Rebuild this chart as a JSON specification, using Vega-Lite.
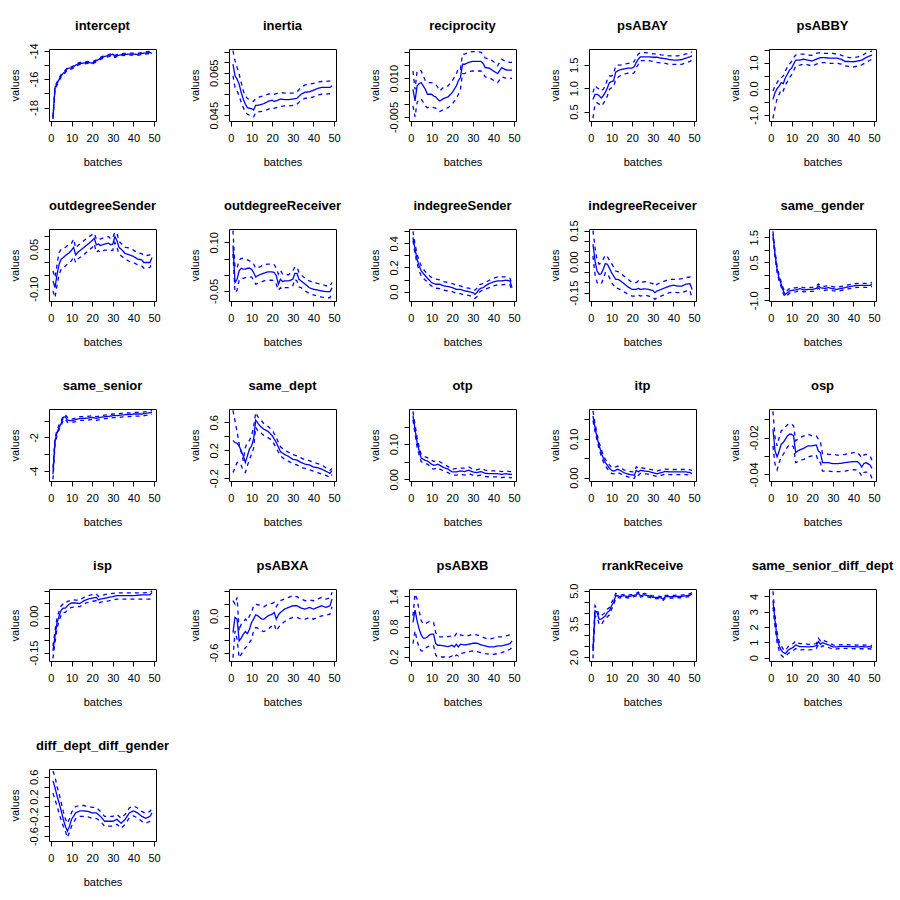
{
"$schema":"https://vega.github.io/schema/vega-lite/v6.json",
"columns":5,
"spacing":{"row":108,"column":73},
"bounds":"flush",
"padding":{"left":8,"top":19,"right":5,"bottom":5},
"resolve":{"scale":{"x":"independent","y":"independent"}},
"config":{
 "view":{"stroke":"black","strokeWidth":1},
 "font":"Liberation Sans",
 "line":{"color":"#0000ff","strokeWidth":1.3},
 "axis":{"domain":false,"grid":false,"tickColor":"black","tickSize":5,"labelColor":"black","labelFontSize":11,"titleFontSize":11,"titleFontWeight":"normal","titleColor":"black","labelFlush":false,"labelOverlap":false},
 "axisX":{"labelPadding":6,"titlePadding":13,"labelAngle":0},
 "axisY":{"labelAngle":-90,"labelAlign":"center","labelBaseline":"bottom","labelPadding":5,"titlePadding":8},
 "title":{"fontSize":13,"fontWeight":"bold","offset":16,"anchor":"middle","frame":"group","color":"black"}
},
"datasets":{
"intercept":[{"b":1,"e":-18.71,"l":-18.8,"h":-18.6},{"b":2,"e":-16.59,"l":-16.72,"h":-16.46},{"b":3,"e":-16.31,"l":-16.42,"h":-16.2},{"b":4,"e":-16.0,"l":-16.1,"h":-15.9},{"b":5,"e":-15.76,"l":-15.85,"h":-15.67},{"b":6,"e":-15.58,"l":-15.67,"h":-15.5},{"b":7,"e":-15.46,"l":-15.54,"h":-15.38},{"b":8,"e":-15.25,"l":-15.33,"h":-15.17},{"b":9,"e":-15.22,"l":-15.3,"h":-15.14},{"b":10,"e":-15.22,"l":-15.3,"h":-15.14},{"b":11,"e":-15.13,"l":-15.2,"h":-15.06},{"b":12,"e":-15.01,"l":-15.08,"h":-14.94},{"b":14,"e":-14.89,"l":-14.96,"h":-14.82},{"b":16,"e":-14.87,"l":-14.94,"h":-14.8},{"b":18,"e":-14.82,"l":-14.89,"h":-14.75},{"b":20,"e":-14.87,"l":-14.94,"h":-14.8},{"b":22,"e":-14.71,"l":-14.78,"h":-14.64},{"b":24,"e":-14.54,"l":-14.61,"h":-14.47},{"b":26,"e":-14.4,"l":-14.47,"h":-14.33},{"b":28,"e":-14.35,"l":-14.42,"h":-14.28},{"b":30,"e":-14.24,"l":-14.31,"h":-14.17},{"b":31,"e":-14.4,"l":-14.47,"h":-14.33},{"b":32,"e":-14.35,"l":-14.42,"h":-14.28},{"b":34,"e":-14.28,"l":-14.35,"h":-14.21},{"b":36,"e":-14.26,"l":-14.33,"h":-14.19},{"b":38,"e":-14.24,"l":-14.31,"h":-14.17},{"b":40,"e":-14.24,"l":-14.31,"h":-14.17},{"b":42,"e":-14.26,"l":-14.33,"h":-14.19},{"b":44,"e":-14.19,"l":-14.26,"h":-14.12},{"b":46,"e":-14.16,"l":-14.23,"h":-14.09},{"b":48,"e":-14.12,"l":-14.19,"h":-14.05},{"b":49,"e":-14.19,"l":-14.26,"h":-14.12}],
"inertia":[{"b":1,"e":0.0691,"l":0.0636,"h":0.0754},{"b":2,"e":0.0636,"l":0.0581,"h":0.0707},{"b":3,"e":0.062,"l":0.0565,"h":0.0675},{"b":4,"e":0.0597,"l":0.0541,"h":0.0644},{"b":5,"e":0.0557,"l":0.051,"h":0.0604},{"b":6,"e":0.0526,"l":0.0486,"h":0.0565},{"b":7,"e":0.0502,"l":0.0466,"h":0.0541},{"b":8,"e":0.0486,"l":0.0455,"h":0.0529},{"b":9,"e":0.0483,"l":0.045,"h":0.0524},{"b":10,"e":0.0481,"l":0.0447,"h":0.0521},{"b":11,"e":0.0475,"l":0.0442,"h":0.0515},{"b":12,"e":0.0497,"l":0.0463,"h":0.0529},{"b":13,"e":0.0497,"l":0.0465,"h":0.0532},{"b":14,"e":0.0499,"l":0.0467,"h":0.0537},{"b":16,"e":0.0505,"l":0.047,"h":0.0541},{"b":18,"e":0.0515,"l":0.0478,"h":0.0549},{"b":20,"e":0.0521,"l":0.0486,"h":0.0552},{"b":21,"e":0.0515,"l":0.0483,"h":0.0549},{"b":22,"e":0.0518,"l":0.0486,"h":0.0552},{"b":24,"e":0.0526,"l":0.0491,"h":0.0557},{"b":26,"e":0.0524,"l":0.0494,"h":0.0554},{"b":28,"e":0.0524,"l":0.0494,"h":0.0554},{"b":30,"e":0.0526,"l":0.0497,"h":0.0554},{"b":32,"e":0.053,"l":0.0502,"h":0.056},{"b":34,"e":0.0549,"l":0.0521,"h":0.0581},{"b":36,"e":0.0559,"l":0.053,"h":0.0593},{"b":38,"e":0.056,"l":0.053,"h":0.0596},{"b":40,"e":0.0568,"l":0.0537,"h":0.06},{"b":42,"e":0.0576,"l":0.0546,"h":0.0607},{"b":44,"e":0.0581,"l":0.0549,"h":0.0609},{"b":46,"e":0.0581,"l":0.0549,"h":0.0609},{"b":48,"e":0.0581,"l":0.0552,"h":0.0612},{"b":49,"e":0.0589,"l":0.0557,"h":0.0617}],
"reciprocity":[{"b":1,"e":0.0057,"l":-0.0007,"h":0.0128},{"b":2,"e":0.0012,"l":-0.005,"h":0.0057},{"b":3,"e":0.007,"l":0.0006,"h":0.0128},{"b":4,"e":0.0079,"l":0.0019,"h":0.0131},{"b":5,"e":0.0083,"l":0.0019,"h":0.0128},{"b":6,"e":0.007,"l":0.0006,"h":0.0109},{"b":7,"e":0.0057,"l":-0.0007,"h":0.009},{"b":8,"e":0.0038,"l":-0.0014,"h":0.0083},{"b":10,"e":0.0038,"l":-0.0011,"h":0.0083},{"b":11,"e":0.0031,"l":-0.0014,"h":0.008},{"b":12,"e":0.0028,"l":-0.0016,"h":0.0077},{"b":13,"e":0.0019,"l":-0.0024,"h":0.0065},{"b":14,"e":0.0012,"l":-0.0029,"h":0.0051},{"b":16,"e":0.0022,"l":-0.002,"h":0.0066},{"b":18,"e":0.0028,"l":-0.0014,"h":0.007},{"b":20,"e":0.0044,"l":-0.0001,"h":0.009},{"b":22,"e":0.007,"l":0.0022,"h":0.0116},{"b":23,"e":0.009,"l":0.0038,"h":0.0139},{"b":24,"e":0.0103,"l":0.0057,"h":0.0135},{"b":25,"e":0.0154,"l":0.0118,"h":0.0193},{"b":26,"e":0.0154,"l":0.0118,"h":0.0193},{"b":28,"e":0.0161,"l":0.0126,"h":0.02},{"b":30,"e":0.0165,"l":0.0128,"h":0.0203},{"b":32,"e":0.0165,"l":0.0128,"h":0.0203},{"b":34,"e":0.0165,"l":0.0128,"h":0.02},{"b":35,"e":0.0157,"l":0.012,"h":0.0193},{"b":36,"e":0.0141,"l":0.0105,"h":0.0178},{"b":38,"e":0.0139,"l":0.0102,"h":0.0174},{"b":40,"e":0.0128,"l":0.0092,"h":0.0165},{"b":42,"e":0.0118,"l":0.0083,"h":0.0148},{"b":44,"e":0.0141,"l":0.0105,"h":0.0174},{"b":46,"e":0.0132,"l":0.01,"h":0.0164},{"b":48,"e":0.0131,"l":0.01,"h":0.0161},{"b":49,"e":0.0131,"l":0.0099,"h":0.0161}],
"psABAY":[{"b":1,"e":0.76,"l":0.36,"h":0.91},{"b":2,"e":0.87,"l":0.66,"h":1.05},{"b":3,"e":0.87,"l":0.69,"h":1.01},{"b":4,"e":0.84,"l":0.66,"h":0.98},{"b":5,"e":0.79,"l":0.62,"h":0.94},{"b":6,"e":0.84,"l":0.67,"h":0.98},{"b":7,"e":0.91,"l":0.74,"h":1.05},{"b":8,"e":1.01,"l":0.84,"h":1.19},{"b":9,"e":1.12,"l":0.98,"h":1.26},{"b":10,"e":1.14,"l":1.01,"h":1.26},{"b":11,"e":1.16,"l":1.03,"h":1.3},{"b":12,"e":1.34,"l":1.19,"h":1.48},{"b":13,"e":1.37,"l":1.23,"h":1.49},{"b":14,"e":1.39,"l":1.26,"h":1.49},{"b":16,"e":1.41,"l":1.3,"h":1.51},{"b":18,"e":1.43,"l":1.32,"h":1.53},{"b":20,"e":1.43,"l":1.31,"h":1.53},{"b":21,"e":1.46,"l":1.33,"h":1.57},{"b":22,"e":1.55,"l":1.44,"h":1.66},{"b":23,"e":1.62,"l":1.51,"h":1.73},{"b":24,"e":1.67,"l":1.59,"h":1.76},{"b":26,"e":1.67,"l":1.59,"h":1.76},{"b":28,"e":1.67,"l":1.59,"h":1.75},{"b":30,"e":1.66,"l":1.57,"h":1.73},{"b":32,"e":1.66,"l":1.55,"h":1.73},{"b":34,"e":1.64,"l":1.54,"h":1.71},{"b":36,"e":1.63,"l":1.53,"h":1.7},{"b":38,"e":1.61,"l":1.51,"h":1.69},{"b":40,"e":1.6,"l":1.51,"h":1.69},{"b":42,"e":1.6,"l":1.51,"h":1.69},{"b":44,"e":1.61,"l":1.51,"h":1.7},{"b":46,"e":1.64,"l":1.54,"h":1.73},{"b":48,"e":1.67,"l":1.57,"h":1.74},{"b":49,"e":1.69,"l":1.61,"h":1.78}],
"psABBY":[{"b":1,"e":-0.41,"l":-1.14,"h":-0.09},{"b":2,"e":-0.15,"l":-0.73,"h":0.1},{"b":3,"e":0.0,"l":-0.37,"h":0.23},{"b":4,"e":0.1,"l":-0.22,"h":0.36},{"b":5,"e":0.23,"l":-0.03,"h":0.42},{"b":6,"e":0.19,"l":-0.09,"h":0.49},{"b":7,"e":0.42,"l":0.14,"h":0.68},{"b":8,"e":0.55,"l":0.27,"h":0.83},{"b":9,"e":0.71,"l":0.42,"h":0.94},{"b":10,"e":0.78,"l":0.53,"h":1.04},{"b":11,"e":0.94,"l":0.68,"h":1.19},{"b":12,"e":1.09,"l":0.87,"h":1.29},{"b":14,"e":1.09,"l":0.9,"h":1.32},{"b":16,"e":1.13,"l":0.94,"h":1.32},{"b":18,"e":1.09,"l":0.91,"h":1.29},{"b":20,"e":1.06,"l":0.87,"h":1.28},{"b":22,"e":1.13,"l":0.94,"h":1.35},{"b":24,"e":1.19,"l":1.0,"h":1.38},{"b":26,"e":1.19,"l":1.0,"h":1.35},{"b":28,"e":1.17,"l":0.97,"h":1.35},{"b":30,"e":1.17,"l":0.97,"h":1.35},{"b":32,"e":1.17,"l":0.97,"h":1.32},{"b":34,"e":1.13,"l":0.94,"h":1.29},{"b":36,"e":1.04,"l":0.87,"h":1.22},{"b":38,"e":1.04,"l":0.85,"h":1.19},{"b":40,"e":1.03,"l":0.83,"h":1.19},{"b":42,"e":1.06,"l":0.87,"h":1.22},{"b":44,"e":1.09,"l":0.91,"h":1.26},{"b":46,"e":1.19,"l":1.0,"h":1.36},{"b":48,"e":1.26,"l":1.09,"h":1.41},{"b":49,"e":1.29,"l":1.13,"h":1.45}],
"outdegreeSender":[{"b":1,"e":-0.071,"l":-0.109,"h":-0.033},{"b":2,"e":-0.096,"l":-0.134,"h":-0.058},{"b":3,"e":-0.045,"l":-0.086,"h":-0.007},{"b":4,"e":-0.007,"l":-0.045,"h":0.037},{"b":5,"e":0.012,"l":-0.026,"h":0.05},{"b":6,"e":0.018,"l":-0.02,"h":0.054},{"b":7,"e":0.025,"l":-0.014,"h":0.056},{"b":8,"e":0.031,"l":-0.007,"h":0.063},{"b":9,"e":0.037,"l":-0.001,"h":0.066},{"b":10,"e":0.046,"l":0.006,"h":0.072},{"b":11,"e":0.056,"l":0.021,"h":0.088},{"b":12,"e":0.028,"l":-0.001,"h":0.054},{"b":13,"e":0.037,"l":0.012,"h":0.063},{"b":14,"e":0.044,"l":0.018,"h":0.069},{"b":16,"e":0.056,"l":0.028,"h":0.082},{"b":18,"e":0.069,"l":0.044,"h":0.094},{"b":20,"e":0.082,"l":0.056,"h":0.105},{"b":21,"e":0.091,"l":0.069,"h":0.11},{"b":22,"e":0.066,"l":0.037,"h":0.088},{"b":23,"e":0.069,"l":0.044,"h":0.092},{"b":24,"e":0.063,"l":0.037,"h":0.088},{"b":26,"e":0.069,"l":0.046,"h":0.094},{"b":28,"e":0.072,"l":0.046,"h":0.097},{"b":29,"e":0.066,"l":0.044,"h":0.088},{"b":30,"e":0.069,"l":0.046,"h":0.094},{"b":31,"e":0.097,"l":0.075,"h":0.114},{"b":32,"e":0.082,"l":0.056,"h":0.11},{"b":33,"e":0.056,"l":0.031,"h":0.079},{"b":34,"e":0.05,"l":0.025,"h":0.072},{"b":36,"e":0.033,"l":0.012,"h":0.056},{"b":38,"e":0.028,"l":0.003,"h":0.054},{"b":40,"e":0.022,"l":-0.001,"h":0.046},{"b":42,"e":0.012,"l":-0.01,"h":0.035},{"b":44,"e":0.009,"l":-0.014,"h":0.033},{"b":45,"e":-0.001,"l":-0.022,"h":0.025},{"b":46,"e":-0.001,"l":-0.022,"h":0.025},{"b":48,"e":-0.001,"l":-0.02,"h":0.028},{"b":49,"e":0.018,"l":-0.001,"h":0.037}],
"outdegreeReceiver":[{"b":1,"e":0.09,"l":0.064,"h":0.136},{"b":2,"e":-0.024,"l":-0.055,"h":0.022},{"b":3,"e":-0.014,"l":-0.048,"h":0.02},{"b":4,"e":0.012,"l":-0.017,"h":0.045},{"b":5,"e":0.02,"l":-0.011,"h":0.05},{"b":6,"e":0.017,"l":-0.011,"h":0.05},{"b":7,"e":0.017,"l":-0.009,"h":0.048},{"b":8,"e":0.02,"l":-0.007,"h":0.046},{"b":9,"e":0.02,"l":-0.007,"h":0.043},{"b":10,"e":0.017,"l":-0.007,"h":0.041},{"b":11,"e":0.007,"l":-0.017,"h":0.033},{"b":12,"e":-0.007,"l":-0.029,"h":0.02},{"b":13,"e":-0.003,"l":-0.027,"h":0.022},{"b":14,"e":0.0,"l":-0.024,"h":0.024},{"b":16,"e":0.005,"l":-0.019,"h":0.031},{"b":18,"e":0.009,"l":-0.017,"h":0.033},{"b":20,"e":0.009,"l":-0.017,"h":0.033},{"b":21,"e":0.007,"l":-0.019,"h":0.031},{"b":22,"e":-0.003,"l":-0.029,"h":0.02},{"b":23,"e":-0.029,"l":-0.048,"h":0.002},{"b":24,"e":-0.014,"l":-0.04,"h":0.014},{"b":25,"e":-0.021,"l":-0.045,"h":0.002},{"b":26,"e":-0.019,"l":-0.04,"h":0.0},{"b":28,"e":-0.019,"l":-0.04,"h":0.0},{"b":30,"e":-0.014,"l":-0.034,"h":0.012},{"b":31,"e":0.004,"l":-0.014,"h":0.024},{"b":32,"e":0.004,"l":-0.019,"h":0.024},{"b":33,"e":-0.014,"l":-0.038,"h":0.007},{"b":34,"e":-0.019,"l":-0.04,"h":0.0},{"b":36,"e":-0.029,"l":-0.05,"h":-0.012},{"b":38,"e":-0.04,"l":-0.058,"h":-0.019},{"b":40,"e":-0.045,"l":-0.062,"h":-0.024},{"b":42,"e":-0.047,"l":-0.066,"h":-0.027},{"b":44,"e":-0.05,"l":-0.069,"h":-0.029},{"b":46,"e":-0.052,"l":-0.071,"h":-0.034},{"b":48,"e":-0.052,"l":-0.071,"h":-0.034},{"b":49,"e":-0.04,"l":-0.055,"h":-0.024}],
"indegreeSender":[{"b":1,"e":0.45,"l":0.422,"h":0.5},{"b":2,"e":0.353,"l":0.311,"h":0.394},{"b":3,"e":0.269,"l":0.233,"h":0.311},{"b":4,"e":0.214,"l":0.172,"h":0.256},{"b":5,"e":0.172,"l":0.131,"h":0.214},{"b":6,"e":0.15,"l":0.111,"h":0.186},{"b":7,"e":0.131,"l":0.094,"h":0.164},{"b":8,"e":0.111,"l":0.083,"h":0.15},{"b":9,"e":0.094,"l":0.061,"h":0.131},{"b":10,"e":0.075,"l":0.047,"h":0.117},{"b":11,"e":0.067,"l":0.033,"h":0.108},{"b":12,"e":0.061,"l":0.028,"h":0.103},{"b":14,"e":0.061,"l":0.025,"h":0.097},{"b":16,"e":0.047,"l":0.011,"h":0.083},{"b":18,"e":0.042,"l":0.006,"h":0.075},{"b":20,"e":0.033,"l":0.0,"h":0.067},{"b":22,"e":0.019,"l":-0.014,"h":0.053},{"b":24,"e":0.019,"l":-0.017,"h":0.047},{"b":26,"e":0.006,"l":-0.028,"h":0.033},{"b":28,"e":0.0,"l":-0.031,"h":0.028},{"b":30,"e":-0.008,"l":-0.042,"h":0.019},{"b":31,"e":-0.022,"l":-0.056,"h":0.011},{"b":32,"e":-0.008,"l":-0.044,"h":0.028},{"b":33,"e":0.019,"l":-0.008,"h":0.056},{"b":34,"e":0.028,"l":0.006,"h":0.061},{"b":35,"e":0.033,"l":0.011,"h":0.067},{"b":36,"e":0.047,"l":0.019,"h":0.075},{"b":38,"e":0.067,"l":0.033,"h":0.094},{"b":40,"e":0.081,"l":0.047,"h":0.111},{"b":42,"e":0.089,"l":0.056,"h":0.122},{"b":44,"e":0.089,"l":0.056,"h":0.122},{"b":46,"e":0.094,"l":0.061,"h":0.122},{"b":48,"e":0.089,"l":0.056,"h":0.111},{"b":49,"e":0.033,"l":0.006,"h":0.061}],
"indegreeReceiver":[{"b":1,"e":0.085,"l":0.028,"h":0.15},{"b":2,"e":0.004,"l":-0.061,"h":0.069},{"b":3,"e":-0.045,"l":-0.101,"h":0.007},{"b":4,"e":-0.061,"l":-0.109,"h":-0.012},{"b":5,"e":-0.058,"l":-0.106,"h":-0.004},{"b":6,"e":-0.036,"l":-0.085,"h":0.012},{"b":7,"e":-0.009,"l":-0.053,"h":0.032},{"b":8,"e":-0.012,"l":-0.058,"h":0.024},{"b":9,"e":-0.032,"l":-0.077,"h":0.007},{"b":10,"e":-0.053,"l":-0.101,"h":-0.009},{"b":11,"e":-0.069,"l":-0.114,"h":-0.025},{"b":12,"e":-0.085,"l":-0.129,"h":-0.045},{"b":13,"e":-0.085,"l":-0.129,"h":-0.048},{"b":14,"e":-0.09,"l":-0.134,"h":-0.053},{"b":16,"e":-0.106,"l":-0.145,"h":-0.069},{"b":18,"e":-0.122,"l":-0.158,"h":-0.085},{"b":20,"e":-0.134,"l":-0.166,"h":-0.101},{"b":22,"e":-0.134,"l":-0.166,"h":-0.101},{"b":23,"e":-0.129,"l":-0.161,"h":-0.093},{"b":24,"e":-0.134,"l":-0.166,"h":-0.101},{"b":26,"e":-0.131,"l":-0.161,"h":-0.096},{"b":28,"e":-0.134,"l":-0.166,"h":-0.101},{"b":30,"e":-0.139,"l":-0.171,"h":-0.106},{"b":31,"e":-0.15,"l":-0.182,"h":-0.118},{"b":32,"e":-0.142,"l":-0.174,"h":-0.109},{"b":34,"e":-0.134,"l":-0.166,"h":-0.101},{"b":36,"e":-0.126,"l":-0.158,"h":-0.093},{"b":38,"e":-0.118,"l":-0.15,"h":-0.085},{"b":40,"e":-0.114,"l":-0.147,"h":-0.085},{"b":42,"e":-0.118,"l":-0.15,"h":-0.085},{"b":44,"e":-0.118,"l":-0.15,"h":-0.082},{"b":46,"e":-0.109,"l":-0.142,"h":-0.077},{"b":48,"e":-0.106,"l":-0.139,"h":-0.074},{"b":49,"e":-0.134,"l":-0.178,"h":-0.093}],
"same_gender":[{"b":1,"e":1.63,"l":1.5,"h":1.74},{"b":2,"e":0.83,"l":0.71,"h":0.95},{"b":3,"e":0.23,"l":0.11,"h":0.35},{"b":4,"e":-0.13,"l":-0.24,"h":-0.02},{"b":5,"e":-0.37,"l":-0.48,"h":-0.27},{"b":6,"e":-0.63,"l":-0.74,"h":-0.53},{"b":7,"e":-0.77,"l":-0.87,"h":-0.67},{"b":8,"e":-0.7,"l":-0.8,"h":-0.6},{"b":9,"e":-0.63,"l":-0.72,"h":-0.54},{"b":10,"e":-0.61,"l":-0.7,"h":-0.52},{"b":12,"e":-0.59,"l":-0.67,"h":-0.51},{"b":14,"e":-0.54,"l":-0.62,"h":-0.46},{"b":16,"e":-0.59,"l":-0.67,"h":-0.51},{"b":18,"e":-0.57,"l":-0.65,"h":-0.49},{"b":20,"e":-0.57,"l":-0.65,"h":-0.49},{"b":22,"e":-0.53,"l":-0.61,"h":-0.45},{"b":23,"e":-0.43,"l":-0.51,"h":-0.35},{"b":24,"e":-0.5,"l":-0.58,"h":-0.42},{"b":26,"e":-0.53,"l":-0.61,"h":-0.45},{"b":28,"e":-0.5,"l":-0.58,"h":-0.42},{"b":30,"e":-0.54,"l":-0.62,"h":-0.46},{"b":32,"e":-0.57,"l":-0.65,"h":-0.49},{"b":34,"e":-0.53,"l":-0.61,"h":-0.45},{"b":36,"e":-0.5,"l":-0.58,"h":-0.42},{"b":38,"e":-0.46,"l":-0.54,"h":-0.38},{"b":40,"e":-0.43,"l":-0.51,"h":-0.35},{"b":42,"e":-0.41,"l":-0.49,"h":-0.33},{"b":44,"e":-0.41,"l":-0.49,"h":-0.33},{"b":46,"e":-0.41,"l":-0.49,"h":-0.33},{"b":48,"e":-0.41,"l":-0.49,"h":-0.33},{"b":49,"e":-0.37,"l":-0.45,"h":-0.29}],
"same_senior":[{"b":1,"e":-4.2,"l":-4.5,"h":-3.8},{"b":2,"e":-2.2,"l":-2.44,"h":-2.0},{"b":3,"e":-1.7,"l":-1.84,"h":-1.56},{"b":4,"e":-1.4,"l":-1.52,"h":-1.24},{"b":5,"e":-1.16,"l":-1.28,"h":-1.0},{"b":6,"e":-0.8,"l":-0.96,"h":-0.7},{"b":7,"e":-0.76,"l":-0.9,"h":-0.64},{"b":8,"e":-0.96,"l":-1.1,"h":-0.8},{"b":9,"e":-1.0,"l":-1.1,"h":-0.9},{"b":10,"e":-1.0,"l":-1.1,"h":-0.9},{"b":12,"e":-0.94,"l":-1.06,"h":-0.84},{"b":14,"e":-0.86,"l":-0.98,"h":-0.76},{"b":16,"e":-0.86,"l":-0.98,"h":-0.76},{"b":18,"e":-0.84,"l":-0.96,"h":-0.74},{"b":20,"e":-0.8,"l":-0.92,"h":-0.7},{"b":22,"e":-0.86,"l":-0.98,"h":-0.76},{"b":24,"e":-0.8,"l":-0.92,"h":-0.7},{"b":26,"e":-0.76,"l":-0.88,"h":-0.66},{"b":28,"e":-0.74,"l":-0.86,"h":-0.64},{"b":30,"e":-0.7,"l":-0.82,"h":-0.6},{"b":32,"e":-0.7,"l":-0.82,"h":-0.6},{"b":34,"e":-0.66,"l":-0.78,"h":-0.56},{"b":36,"e":-0.64,"l":-0.76,"h":-0.54},{"b":38,"e":-0.64,"l":-0.76,"h":-0.54},{"b":40,"e":-0.6,"l":-0.72,"h":-0.5},{"b":42,"e":-0.6,"l":-0.72,"h":-0.5},{"b":44,"e":-0.6,"l":-0.72,"h":-0.5},{"b":46,"e":-0.56,"l":-0.68,"h":-0.46},{"b":48,"e":-0.52,"l":-0.64,"h":-0.42},{"b":49,"e":-0.5,"l":-0.62,"h":-0.4}],
"same_dept":[{"b":1,"e":0.34,"l":-0.12,"h":0.77},{"b":2,"e":0.31,"l":-0.05,"h":0.62},{"b":3,"e":0.3,"l":0.025,"h":0.46},{"b":4,"e":0.26,"l":0.025,"h":0.29},{"b":5,"e":0.19,"l":-0.02,"h":0.17},{"b":6,"e":0.12,"l":-0.09,"h":0.05},{"b":7,"e":0.025,"l":-0.12,"h":0.24},{"b":8,"e":0.12,"l":-0.02,"h":0.31},{"b":9,"e":0.22,"l":0.07,"h":0.34},{"b":10,"e":0.26,"l":0.14,"h":0.41},{"b":11,"e":0.36,"l":0.23,"h":0.53},{"b":12,"e":0.63,"l":0.53,"h":0.74},{"b":13,"e":0.59,"l":0.48,"h":0.68},{"b":14,"e":0.55,"l":0.46,"h":0.65},{"b":16,"e":0.5,"l":0.41,"h":0.58},{"b":18,"e":0.47,"l":0.38,"h":0.54},{"b":20,"e":0.41,"l":0.34,"h":0.49},{"b":22,"e":0.31,"l":0.23,"h":0.38},{"b":24,"e":0.18,"l":0.12,"h":0.25},{"b":26,"e":0.14,"l":0.07,"h":0.2},{"b":28,"e":0.11,"l":0.04,"h":0.17},{"b":30,"e":0.07,"l":0.01,"h":0.14},{"b":32,"e":0.06,"l":-0.01,"h":0.12},{"b":34,"e":0.025,"l":-0.05,"h":0.09},{"b":36,"e":0.0,"l":-0.06,"h":0.06},{"b":38,"e":-0.01,"l":-0.08,"h":0.05},{"b":40,"e":-0.04,"l":-0.1,"h":0.025},{"b":42,"e":-0.05,"l":-0.12,"h":0.01},{"b":44,"e":-0.07,"l":-0.14,"h":-0.01},{"b":46,"e":-0.1,"l":-0.16,"h":-0.05},{"b":48,"e":-0.13,"l":-0.19,"h":-0.09},{"b":49,"e":-0.09,"l":-0.15,"h":-0.06}],
"otp":[{"b":1,"e":0.181,"l":0.169,"h":0.193},{"b":2,"e":0.143,"l":0.129,"h":0.155},{"b":3,"e":0.105,"l":0.092,"h":0.119},{"b":4,"e":0.081,"l":0.07,"h":0.092},{"b":5,"e":0.06,"l":0.05,"h":0.07},{"b":6,"e":0.057,"l":0.047,"h":0.067},{"b":7,"e":0.054,"l":0.044,"h":0.064},{"b":8,"e":0.052,"l":0.043,"h":0.062},{"b":9,"e":0.048,"l":0.039,"h":0.057},{"b":10,"e":0.043,"l":0.031,"h":0.054},{"b":11,"e":0.04,"l":0.029,"h":0.051},{"b":12,"e":0.041,"l":0.031,"h":0.052},{"b":13,"e":0.043,"l":0.033,"h":0.054},{"b":14,"e":0.04,"l":0.029,"h":0.05},{"b":16,"e":0.033,"l":0.024,"h":0.043},{"b":18,"e":0.029,"l":0.019,"h":0.036},{"b":20,"e":0.021,"l":0.012,"h":0.029},{"b":22,"e":0.021,"l":0.012,"h":0.031},{"b":24,"e":0.024,"l":0.014,"h":0.032},{"b":26,"e":0.022,"l":0.012,"h":0.032},{"b":28,"e":0.026,"l":0.016,"h":0.035},{"b":30,"e":0.021,"l":0.012,"h":0.029},{"b":32,"e":0.019,"l":0.01,"h":0.027},{"b":34,"e":0.022,"l":0.012,"h":0.031},{"b":36,"e":0.017,"l":0.008,"h":0.026},{"b":38,"e":0.016,"l":0.007,"h":0.024},{"b":40,"e":0.016,"l":0.007,"h":0.024},{"b":42,"e":0.016,"l":0.007,"h":0.024},{"b":44,"e":0.014,"l":0.005,"h":0.022},{"b":46,"e":0.016,"l":0.007,"h":0.024},{"b":48,"e":0.014,"l":0.005,"h":0.022},{"b":49,"e":0.014,"l":0.005,"h":0.022}],
"itp":[{"b":1,"e":0.159,"l":0.147,"h":0.172},{"b":2,"e":0.129,"l":0.119,"h":0.14},{"b":3,"e":0.103,"l":0.095,"h":0.112},{"b":4,"e":0.082,"l":0.073,"h":0.091},{"b":5,"e":0.065,"l":0.056,"h":0.073},{"b":6,"e":0.05,"l":0.041,"h":0.059},{"b":7,"e":0.039,"l":0.03,"h":0.047},{"b":8,"e":0.032,"l":0.023,"h":0.041},{"b":9,"e":0.024,"l":0.016,"h":0.033},{"b":10,"e":0.019,"l":0.011,"h":0.026},{"b":11,"e":0.017,"l":0.01,"h":0.026},{"b":12,"e":0.019,"l":0.011,"h":0.028},{"b":13,"e":0.022,"l":0.013,"h":0.03},{"b":14,"e":0.019,"l":0.011,"h":0.026},{"b":16,"e":0.013,"l":0.006,"h":0.02},{"b":18,"e":0.009,"l":0.002,"h":0.017},{"b":20,"e":0.007,"l":-0.002,"h":0.015},{"b":21,"e":0.006,"l":-0.002,"h":0.015},{"b":22,"e":0.019,"l":0.01,"h":0.028},{"b":23,"e":0.015,"l":0.006,"h":0.024},{"b":24,"e":0.019,"l":0.011,"h":0.026},{"b":26,"e":0.017,"l":0.01,"h":0.024},{"b":28,"e":0.016,"l":0.009,"h":0.022},{"b":30,"e":0.013,"l":0.006,"h":0.02},{"b":32,"e":0.01,"l":0.003,"h":0.017},{"b":34,"e":0.013,"l":0.006,"h":0.02},{"b":36,"e":0.016,"l":0.009,"h":0.022},{"b":38,"e":0.015,"l":0.008,"h":0.021},{"b":40,"e":0.015,"l":0.008,"h":0.021},{"b":42,"e":0.015,"l":0.008,"h":0.021},{"b":44,"e":0.015,"l":0.008,"h":0.021},{"b":46,"e":0.015,"l":0.008,"h":0.021},{"b":48,"e":0.013,"l":0.007,"h":0.02},{"b":49,"e":0.01,"l":0.003,"h":0.019}],
"osp":[{"b":1,"e":-0.0155,"l":-0.0245,"h":-0.0058},{"b":2,"e":-0.0273,"l":-0.0345,"h":-0.02},{"b":3,"e":-0.0305,"l":-0.0376,"h":-0.0245},{"b":4,"e":-0.0273,"l":-0.0336,"h":-0.02},{"b":5,"e":-0.0236,"l":-0.0305,"h":-0.0164},{"b":6,"e":-0.0227,"l":-0.0291,"h":-0.0155},{"b":7,"e":-0.0209,"l":-0.0273,"h":-0.0142},{"b":8,"e":-0.0191,"l":-0.0251,"h":-0.0131},{"b":9,"e":-0.0182,"l":-0.024,"h":-0.0124},{"b":10,"e":-0.0182,"l":-0.024,"h":-0.0127},{"b":11,"e":-0.0191,"l":-0.0251,"h":-0.0136},{"b":12,"e":-0.0282,"l":-0.0336,"h":-0.0218},{"b":13,"e":-0.0273,"l":-0.0331,"h":-0.0209},{"b":14,"e":-0.0267,"l":-0.0324,"h":-0.02},{"b":16,"e":-0.0258,"l":-0.0318,"h":-0.0191},{"b":18,"e":-0.0245,"l":-0.0305,"h":-0.0182},{"b":20,"e":-0.0245,"l":-0.03,"h":-0.0191},{"b":22,"e":-0.024,"l":-0.0295,"h":-0.0191},{"b":23,"e":-0.0273,"l":-0.0331,"h":-0.0209},{"b":24,"e":-0.0282,"l":-0.0336,"h":-0.0222},{"b":25,"e":-0.0336,"l":-0.0382,"h":-0.0287},{"b":26,"e":-0.0336,"l":-0.0382,"h":-0.0287},{"b":28,"e":-0.0336,"l":-0.0382,"h":-0.0291},{"b":30,"e":-0.0342,"l":-0.0385,"h":-0.0291},{"b":32,"e":-0.0342,"l":-0.0385,"h":-0.0295},{"b":34,"e":-0.034,"l":-0.0385,"h":-0.0295},{"b":36,"e":-0.0336,"l":-0.0382,"h":-0.0291},{"b":38,"e":-0.0333,"l":-0.0378,"h":-0.0287},{"b":40,"e":-0.0331,"l":-0.0375,"h":-0.0282},{"b":42,"e":-0.0331,"l":-0.0376,"h":-0.0282},{"b":43,"e":-0.0342,"l":-0.0391,"h":-0.0295},{"b":44,"e":-0.036,"l":-0.0409,"h":-0.0309},{"b":45,"e":-0.0342,"l":-0.0391,"h":-0.0295},{"b":46,"e":-0.0336,"l":-0.0387,"h":-0.0291},{"b":48,"e":-0.0349,"l":-0.0396,"h":-0.03},{"b":49,"e":-0.0367,"l":-0.0422,"h":-0.0324}],
"isp":[{"b":1,"e":-0.143,"l":-0.173,"h":-0.123},{"b":2,"e":-0.082,"l":-0.109,"h":-0.061},{"b":3,"e":-0.027,"l":-0.05,"h":-0.007},{"b":4,"e":0.0,"l":-0.02,"h":0.02},{"b":5,"e":0.023,"l":0.004,"h":0.041},{"b":6,"e":0.031,"l":0.014,"h":0.048},{"b":7,"e":0.031,"l":0.014,"h":0.048},{"b":8,"e":0.041,"l":0.023,"h":0.059},{"b":9,"e":0.048,"l":0.031,"h":0.061},{"b":10,"e":0.052,"l":0.034,"h":0.065},{"b":12,"e":0.052,"l":0.037,"h":0.064},{"b":14,"e":0.05,"l":0.037,"h":0.064},{"b":16,"e":0.061,"l":0.048,"h":0.075},{"b":18,"e":0.068,"l":0.055,"h":0.082},{"b":20,"e":0.072,"l":0.059,"h":0.086},{"b":22,"e":0.075,"l":0.061,"h":0.089},{"b":23,"e":0.065,"l":0.05,"h":0.079},{"b":24,"e":0.068,"l":0.055,"h":0.082},{"b":26,"e":0.071,"l":0.059,"h":0.086},{"b":28,"e":0.075,"l":0.061,"h":0.089},{"b":30,"e":0.078,"l":0.064,"h":0.091},{"b":32,"e":0.082,"l":0.068,"h":0.093},{"b":36,"e":0.082,"l":0.068,"h":0.093},{"b":40,"e":0.082,"l":0.068,"h":0.093},{"b":44,"e":0.085,"l":0.068,"h":0.093},{"b":48,"e":0.085,"l":0.068,"h":0.095},{"b":49,"e":0.095,"l":0.082,"h":0.102}],
"psABXA":[{"b":1,"e":-0.273,"l":-0.683,"h":0.246},{"b":2,"e":-0.027,"l":-0.246,"h":0.191},{"b":3,"e":-0.055,"l":-0.383,"h":0.3},{"b":4,"e":-0.41,"l":-0.683,"h":-0.246},{"b":5,"e":-0.366,"l":-0.628,"h":-0.137},{"b":6,"e":-0.3,"l":-0.574,"h":-0.109},{"b":7,"e":-0.257,"l":-0.519,"h":-0.055},{"b":8,"e":-0.29,"l":-0.492,"h":-0.082},{"b":9,"e":-0.219,"l":-0.437,"h":0.0},{"b":10,"e":-0.109,"l":-0.383,"h":0.055},{"b":11,"e":-0.055,"l":-0.246,"h":0.164},{"b":12,"e":0.016,"l":-0.191,"h":0.191},{"b":13,"e":0.0,"l":-0.202,"h":0.18},{"b":14,"e":-0.027,"l":-0.219,"h":0.175},{"b":15,"e":-0.055,"l":-0.246,"h":0.158},{"b":16,"e":-0.055,"l":-0.257,"h":0.148},{"b":18,"e":0.0,"l":-0.219,"h":0.191},{"b":20,"e":0.027,"l":-0.164,"h":0.202},{"b":21,"e":0.055,"l":-0.137,"h":0.219},{"b":22,"e":-0.055,"l":-0.246,"h":0.148},{"b":23,"e":0.016,"l":-0.191,"h":0.202},{"b":24,"e":0.055,"l":-0.148,"h":0.246},{"b":26,"e":0.109,"l":-0.093,"h":0.273},{"b":28,"e":0.137,"l":-0.055,"h":0.3},{"b":30,"e":0.164,"l":-0.027,"h":0.328},{"b":32,"e":0.164,"l":-0.027,"h":0.311},{"b":34,"e":0.126,"l":-0.055,"h":0.273},{"b":36,"e":0.109,"l":-0.055,"h":0.246},{"b":38,"e":0.137,"l":-0.027,"h":0.257},{"b":40,"e":0.109,"l":-0.055,"h":0.246},{"b":42,"e":0.137,"l":-0.027,"h":0.273},{"b":44,"e":0.164,"l":0.0,"h":0.3},{"b":46,"e":0.137,"l":0.011,"h":0.273},{"b":48,"e":0.164,"l":0.027,"h":0.29},{"b":49,"e":0.273,"l":0.148,"h":0.383}],
"psABXB":[{"b":1,"e":0.88,"l":0.46,"h":1.013},{"b":2,"e":1.127,"l":0.713,"h":1.447},{"b":3,"e":0.913,"l":0.513,"h":1.347},{"b":4,"e":0.747,"l":0.38,"h":1.113},{"b":5,"e":0.633,"l":0.313,"h":0.913},{"b":6,"e":0.567,"l":0.313,"h":0.86},{"b":7,"e":0.567,"l":0.367,"h":0.847},{"b":8,"e":0.593,"l":0.393,"h":0.88},{"b":9,"e":0.633,"l":0.413,"h":0.9},{"b":10,"e":0.647,"l":0.427,"h":0.893},{"b":11,"e":0.647,"l":0.413,"h":0.88},{"b":12,"e":0.46,"l":0.233,"h":0.68},{"b":13,"e":0.427,"l":0.193,"h":0.613},{"b":14,"e":0.427,"l":0.193,"h":0.593},{"b":16,"e":0.413,"l":0.193,"h":0.593},{"b":18,"e":0.4,"l":0.18,"h":0.6},{"b":20,"e":0.427,"l":0.213,"h":0.613},{"b":21,"e":0.393,"l":0.18,"h":0.593},{"b":22,"e":0.447,"l":0.233,"h":0.66},{"b":23,"e":0.393,"l":0.213,"h":0.613},{"b":24,"e":0.447,"l":0.26,"h":0.633},{"b":26,"e":0.433,"l":0.28,"h":0.613},{"b":28,"e":0.447,"l":0.3,"h":0.62},{"b":30,"e":0.467,"l":0.313,"h":0.647},{"b":32,"e":0.467,"l":0.3,"h":0.633},{"b":34,"e":0.433,"l":0.28,"h":0.6},{"b":36,"e":0.413,"l":0.26,"h":0.567},{"b":38,"e":0.393,"l":0.247,"h":0.547},{"b":40,"e":0.393,"l":0.247,"h":0.567},{"b":42,"e":0.413,"l":0.26,"h":0.593},{"b":44,"e":0.413,"l":0.28,"h":0.593},{"b":46,"e":0.433,"l":0.313,"h":0.613},{"b":48,"e":0.46,"l":0.347,"h":0.633},{"b":49,"e":0.513,"l":0.38,"h":0.66}],
"rrankReceive":[{"b":1,"e":2.27,"l":1.94,"h":2.42},{"b":2,"e":4.09,"l":3.86,"h":4.32},{"b":3,"e":4.02,"l":3.82,"h":4.17},{"b":4,"e":3.71,"l":3.48,"h":3.86},{"b":5,"e":3.71,"l":3.45,"h":3.86},{"b":6,"e":3.79,"l":3.61,"h":3.94},{"b":7,"e":3.86,"l":3.71,"h":4.02},{"b":8,"e":4.02,"l":3.82,"h":4.17},{"b":9,"e":4.09,"l":3.91,"h":4.24},{"b":10,"e":4.32,"l":4.17,"h":4.47},{"b":11,"e":4.47,"l":4.32,"h":4.62},{"b":12,"e":4.77,"l":4.67,"h":4.88},{"b":13,"e":4.77,"l":4.71,"h":4.83},{"b":14,"e":4.73,"l":4.67,"h":4.79},{"b":16,"e":4.77,"l":4.71,"h":4.83},{"b":18,"e":4.73,"l":4.67,"h":4.79},{"b":20,"e":4.77,"l":4.71,"h":4.83},{"b":22,"e":4.82,"l":4.76,"h":4.88},{"b":23,"e":4.88,"l":4.82,"h":4.94},{"b":24,"e":4.77,"l":4.71,"h":4.83},{"b":26,"e":4.82,"l":4.76,"h":4.88},{"b":28,"e":4.77,"l":4.71,"h":4.83},{"b":30,"e":4.7,"l":4.64,"h":4.76},{"b":32,"e":4.7,"l":4.64,"h":4.76},{"b":34,"e":4.67,"l":4.61,"h":4.73},{"b":35,"e":4.62,"l":4.56,"h":4.68},{"b":36,"e":4.73,"l":4.67,"h":4.79},{"b":38,"e":4.73,"l":4.67,"h":4.79},{"b":40,"e":4.73,"l":4.67,"h":4.79},{"b":42,"e":4.74,"l":4.68,"h":4.8},{"b":44,"e":4.74,"l":4.68,"h":4.8},{"b":46,"e":4.77,"l":4.71,"h":4.83},{"b":48,"e":4.8,"l":4.74,"h":4.86},{"b":49,"e":4.85,"l":4.79,"h":4.91}],
"same_senior_diff_dept":[{"b":1,"e":3.72,"l":3.28,"h":4.33},{"b":2,"e":2.4,"l":2.01,"h":2.73},{"b":3,"e":1.31,"l":0.98,"h":1.64},{"b":4,"e":0.77,"l":0.48,"h":1.05},{"b":5,"e":0.48,"l":0.17,"h":0.77},{"b":6,"e":0.33,"l":0.04,"h":0.55},{"b":7,"e":0.26,"l":0.04,"h":0.44},{"b":8,"e":0.44,"l":0.22,"h":0.66},{"b":9,"e":0.55,"l":0.33,"h":0.81},{"b":10,"e":0.61,"l":0.39,"h":0.87},{"b":11,"e":0.7,"l":0.48,"h":0.94},{"b":12,"e":0.83,"l":0.59,"h":1.09},{"b":13,"e":0.77,"l":0.55,"h":0.98},{"b":14,"e":0.72,"l":0.5,"h":0.92},{"b":16,"e":0.72,"l":0.52,"h":0.92},{"b":18,"e":0.7,"l":0.5,"h":0.87},{"b":20,"e":0.72,"l":0.52,"h":0.87},{"b":22,"e":0.77,"l":0.59,"h":0.92},{"b":23,"e":1.05,"l":0.83,"h":1.27},{"b":24,"e":0.87,"l":0.66,"h":1.09},{"b":25,"e":0.98,"l":0.77,"h":1.2},{"b":26,"e":0.92,"l":0.72,"h":1.09},{"b":28,"e":0.83,"l":0.66,"h":0.98},{"b":30,"e":0.7,"l":0.55,"h":0.83},{"b":32,"e":0.7,"l":0.57,"h":0.81},{"b":34,"e":0.74,"l":0.61,"h":0.85},{"b":36,"e":0.74,"l":0.61,"h":0.85},{"b":38,"e":0.72,"l":0.59,"h":0.83},{"b":40,"e":0.72,"l":0.59,"h":0.83},{"b":42,"e":0.7,"l":0.57,"h":0.81},{"b":44,"e":0.72,"l":0.59,"h":0.83},{"b":46,"e":0.7,"l":0.57,"h":0.81},{"b":48,"e":0.72,"l":0.59,"h":0.83},{"b":49,"e":0.66,"l":0.52,"h":0.77}],
"diff_dept_diff_gender":[{"b":1,"e":0.52,"l":0.27,"h":0.72},{"b":2,"e":0.38,"l":0.14,"h":0.6},{"b":3,"e":0.21,"l":0.0,"h":0.4},{"b":4,"e":0.07,"l":-0.14,"h":0.25},{"b":5,"e":-0.09,"l":-0.28,"h":0.08},{"b":6,"e":-0.26,"l":-0.4,"h":-0.1},{"b":7,"e":-0.4,"l":-0.5,"h":-0.25},{"b":8,"e":-0.5,"l":-0.63,"h":-0.34},{"b":9,"e":-0.4,"l":-0.52,"h":-0.25},{"b":10,"e":-0.26,"l":-0.4,"h":-0.12},{"b":12,"e":-0.13,"l":-0.25,"h":0.0},{"b":14,"e":-0.09,"l":-0.2,"h":0.02},{"b":16,"e":-0.09,"l":-0.2,"h":0.02},{"b":18,"e":-0.1,"l":-0.21,"h":0.0},{"b":20,"e":-0.13,"l":-0.24,"h":-0.02},{"b":22,"e":-0.13,"l":-0.24,"h":-0.02},{"b":24,"e":-0.2,"l":-0.3,"h":-0.1},{"b":26,"e":-0.3,"l":-0.4,"h":-0.2},{"b":28,"e":-0.3,"l":-0.4,"h":-0.2},{"b":30,"e":-0.3,"l":-0.4,"h":-0.2},{"b":32,"e":-0.26,"l":-0.36,"h":-0.16},{"b":34,"e":-0.34,"l":-0.44,"h":-0.24},{"b":36,"e":-0.26,"l":-0.36,"h":-0.16},{"b":38,"e":-0.13,"l":-0.23,"h":-0.03},{"b":40,"e":-0.09,"l":-0.19,"h":0.01},{"b":42,"e":-0.13,"l":-0.23,"h":-0.03},{"b":44,"e":-0.2,"l":-0.3,"h":-0.1},{"b":46,"e":-0.24,"l":-0.34,"h":-0.14},{"b":48,"e":-0.2,"l":-0.3,"h":-0.1},{"b":49,"e":-0.13,"l":-0.23,"h":-0.03}]
},
"concat":[
{"title":{"text":"intercept","offset":10},"data":{"name":"intercept"},"transform":[{"fold":["e","l","h"],"as":["t","v"]}],"width":107,"height":72,"mark":{"type":"line","clip":true},"encoding":{"x":{"field":"b","type":"quantitative","title":"batches","scale":{"domain":[-0.92,50.92],"nice":false,"zero":false},"axis":{"values":[0,10,20,30,40,50]}},"y":{"field":"v","type":"quantitative","title":"values","scale":{"domain":[-18.94,-13.88],"nice":false,"zero":false},"axis":{"values":[-18,-17,-16,-15,-14],"format":".0f","labelExpr":"indexof([-18,-16,-14],datum.value)<0?'':replace(datum.label,'−','-')"}},"strokeDash":{"field":"t","type":"nominal","scale":{"domain":["e","l","h"],"range":[[1,0],[4,4],[4,4]]},"legend":null}}},
{"title":"inertia","data":{"name":"inertia"},"transform":[{"fold":["e","l","h"],"as":["t","v"]}],"width":107,"height":72,"mark":{"type":"line","clip":true},"encoding":{"x":{"field":"b","type":"quantitative","title":"batches","scale":{"domain":[-0.92,50.92],"nice":false,"zero":false},"axis":{"values":[0,10,20,30,40,50]}},"y":{"field":"v","type":"quantitative","title":"values","scale":{"domain":[0.0423,0.0762],"nice":false,"zero":false},"axis":{"values":[0.045,0.05,0.055,0.06,0.065,0.07,0.075],"format":".3f","labelExpr":"indexof([0.045,0.065],datum.value)<0?'':replace(datum.label,'−','-')"}},"strokeDash":{"field":"t","type":"nominal","scale":{"domain":["e","l","h"],"range":[[1,0],[4,4],[4,4]]},"legend":null}}},
{"title":"reciprocity","data":{"name":"reciprocity"},"transform":[{"fold":["e","l","h"],"as":["t","v"]}],"width":107,"height":72,"mark":{"type":"line","clip":true},"encoding":{"x":{"field":"b","type":"quantitative","title":"batches","scale":{"domain":[-0.92,50.92],"nice":false,"zero":false},"axis":{"values":[0,10,20,30,40,50]}},"y":{"field":"v","type":"quantitative","title":"values","scale":{"domain":[-0.00655,0.0213],"nice":false,"zero":false},"axis":{"values":[-0.005,0,0.005,0.01,0.015,0.02],"format":".3f","labelExpr":"indexof([-0.005,0.01],datum.value)<0?'':replace(datum.label,'−','-')"}},"strokeDash":{"field":"t","type":"nominal","scale":{"domain":["e","l","h"],"range":[[1,0],[4,4],[4,4]]},"legend":null}}},
{"title":"psABAY","data":{"name":"psABAY"},"transform":[{"fold":["e","l","h"],"as":["t","v"]}],"width":107,"height":72,"mark":{"type":"line","clip":true},"encoding":{"x":{"field":"b","type":"quantitative","title":"batches","scale":{"domain":[-0.92,50.92],"nice":false,"zero":false},"axis":{"values":[0,10,20,30,40,50]}},"y":{"field":"v","type":"quantitative","title":"values","scale":{"domain":[0.3,1.836],"nice":false,"zero":false},"axis":{"values":[0.5,1,1.5],"format":".1f","labelExpr":"replace(datum.label,'−','-')"}},"strokeDash":{"field":"t","type":"nominal","scale":{"domain":["e","l","h"],"range":[[1,0],[4,4],[4,4]]},"legend":null}}},
{"title":"psABBY","data":{"name":"psABBY"},"transform":[{"fold":["e","l","h"],"as":["t","v"]}],"width":107,"height":72,"mark":{"type":"line","clip":true},"encoding":{"x":{"field":"b","type":"quantitative","title":"batches","scale":{"domain":[-0.92,50.92],"nice":false,"zero":false},"axis":{"values":[0,10,20,30,40,50]}},"y":{"field":"v","type":"quantitative","title":"values","scale":{"domain":[-1.24,1.52],"nice":false,"zero":false},"axis":{"values":[-1,-0.5,0,0.5,1,1.5],"format":".1f","labelExpr":"indexof([-1,0,1],datum.value)<0?'':replace(datum.label,'−','-')"}},"strokeDash":{"field":"t","type":"nominal","scale":{"domain":["e","l","h"],"range":[[1,0],[4,4],[4,4]]},"legend":null}}},
{"title":"outdegreeSender","data":{"name":"outdegreeSender"},"transform":[{"fold":["e","l","h"],"as":["t","v"]}],"width":107,"height":72,"mark":{"type":"line","clip":true},"encoding":{"x":{"field":"b","type":"quantitative","title":"batches","scale":{"domain":[-0.92,50.92],"nice":false,"zero":false},"axis":{"values":[0,10,20,30,40,50]}},"y":{"field":"v","type":"quantitative","title":"values","scale":{"domain":[-0.147,0.126],"nice":false,"zero":false},"axis":{"values":[-0.1,-0.05,0,0.05,0.1],"format":".2f","labelExpr":"indexof([-0.1,0.05],datum.value)<0?'':replace(datum.label,'−','-')"}},"strokeDash":{"field":"t","type":"nominal","scale":{"domain":["e","l","h"],"range":[[1,0],[4,4],[4,4]]},"legend":null}}},
{"title":"outdegreeReceiver","data":{"name":"outdegreeReceiver"},"transform":[{"fold":["e","l","h"],"as":["t","v"]}],"width":107,"height":72,"mark":{"type":"line","clip":true},"encoding":{"x":{"field":"b","type":"quantitative","title":"batches","scale":{"domain":[-0.92,50.92],"nice":false,"zero":false},"axis":{"values":[0,10,20,30,40,50]}},"y":{"field":"v","type":"quantitative","title":"values","scale":{"domain":[-0.081,0.141],"nice":false,"zero":false},"axis":{"values":[-0.05,0,0.05,0.1],"format":".2f","labelExpr":"indexof([-0.05,0.1],datum.value)<0?'':replace(datum.label,'−','-')"}},"strokeDash":{"field":"t","type":"nominal","scale":{"domain":["e","l","h"],"range":[[1,0],[4,4],[4,4]]},"legend":null}}},
{"title":"indegreeSender","data":{"name":"indegreeSender"},"transform":[{"fold":["e","l","h"],"as":["t","v"]}],"width":107,"height":72,"mark":{"type":"line","clip":true},"encoding":{"x":{"field":"b","type":"quantitative","title":"batches","scale":{"domain":[-0.92,50.92],"nice":false,"zero":false},"axis":{"values":[0,10,20,30,40,50]}},"y":{"field":"v","type":"quantitative","title":"values","scale":{"domain":[-0.078,0.519],"nice":false,"zero":false},"axis":{"values":[0,0.1,0.2,0.3,0.4,0.5],"format":".1f","labelExpr":"indexof([0,0.2,0.4],datum.value)<0?'':replace(datum.label,'−','-')"}},"strokeDash":{"field":"t","type":"nominal","scale":{"domain":["e","l","h"],"range":[[1,0],[4,4],[4,4]]},"legend":null}}},
{"title":{"text":"indegreeReceiver","offset":7},"data":{"name":"indegreeReceiver"},"transform":[{"fold":["e","l","h"],"as":["t","v"]}],"width":107,"height":72,"mark":{"type":"line","clip":true},"encoding":{"x":{"field":"b","type":"quantitative","title":"batches","scale":{"domain":[-0.92,50.92],"nice":false,"zero":false},"axis":{"values":[0,10,20,30,40,50]}},"y":{"field":"v","type":"quantitative","title":"values","scale":{"domain":[-0.19,0.158],"nice":false,"zero":false},"axis":{"values":[-0.15,-0.1,-0.05,0,0.05,0.1,0.15],"format":".2f","labelExpr":"indexof([-0.15,0,0.15],datum.value)<0?'':replace(datum.label,'−','-')"}},"strokeDash":{"field":"t","type":"nominal","scale":{"domain":["e","l","h"],"range":[[1,0],[4,4],[4,4]]},"legend":null}}},
{"title":"same_gender","data":{"name":"same_gender"},"transform":[{"fold":["e","l","h"],"as":["t","v"]}],"width":107,"height":72,"mark":{"type":"line","clip":true},"encoding":{"x":{"field":"b","type":"quantitative","title":"batches","scale":{"domain":[-0.92,50.92],"nice":false,"zero":false},"axis":{"values":[0,10,20,30,40,50]}},"y":{"field":"v","type":"quantitative","title":"values","scale":{"domain":[-1.03,1.83],"nice":false,"zero":false},"axis":{"values":[-1,-0.5,0,0.5,1,1.5],"format":".1f","labelExpr":"indexof([-1,0.5,1.5],datum.value)<0?'':replace(datum.label,'−','-')"}},"strokeDash":{"field":"t","type":"nominal","scale":{"domain":["e","l","h"],"range":[[1,0],[4,4],[4,4]]},"legend":null}}},
{"title":"same_senior","data":{"name":"same_senior"},"transform":[{"fold":["e","l","h"],"as":["t","v"]}],"width":107,"height":72,"mark":{"type":"line","clip":true},"encoding":{"x":{"field":"b","type":"quantitative","title":"batches","scale":{"domain":[-0.92,50.92],"nice":false,"zero":false},"axis":{"values":[0,10,20,30,40,50]}},"y":{"field":"v","type":"quantitative","title":"values","scale":{"domain":[-4.6,-0.3],"nice":false,"zero":false},"axis":{"values":[-4,-3,-2,-1],"format":".0f","labelExpr":"indexof([-4,-2],datum.value)<0?'':replace(datum.label,'−','-')"}},"strokeDash":{"field":"t","type":"nominal","scale":{"domain":["e","l","h"],"range":[[1,0],[4,4],[4,4]]},"legend":null}}},
{"title":"same_dept","data":{"name":"same_dept"},"transform":[{"fold":["e","l","h"],"as":["t","v"]}],"width":107,"height":72,"mark":{"type":"line","clip":true},"encoding":{"x":{"field":"b","type":"quantitative","title":"batches","scale":{"domain":[-0.92,50.92],"nice":false,"zero":false},"axis":{"values":[0,10,20,30,40,50]}},"y":{"field":"v","type":"quantitative","title":"values","scale":{"domain":[-0.24,0.79],"nice":false,"zero":false},"axis":{"values":[-0.2,0,0.2,0.4,0.6],"format":".1f","labelExpr":"indexof([-0.2,0.2,0.6],datum.value)<0?'':replace(datum.label,'−','-')"}},"strokeDash":{"field":"t","type":"nominal","scale":{"domain":["e","l","h"],"range":[[1,0],[4,4],[4,4]]},"legend":null}}},
{"title":"otp","data":{"name":"otp"},"transform":[{"fold":["e","l","h"],"as":["t","v"]}],"width":107,"height":72,"mark":{"type":"line","clip":true},"encoding":{"x":{"field":"b","type":"quantitative","title":"batches","scale":{"domain":[-0.92,50.92],"nice":false,"zero":false},"axis":{"values":[0,10,20,30,40,50]}},"y":{"field":"v","type":"quantitative","title":"values","scale":{"domain":[-0.0048,0.2],"nice":false,"zero":false},"axis":{"values":[0,0.05,0.1,0.15],"format":".2f","labelExpr":"indexof([0,0.1],datum.value)<0?'':replace(datum.label,'−','-')"}},"strokeDash":{"field":"t","type":"nominal","scale":{"domain":["e","l","h"],"range":[[1,0],[4,4],[4,4]]},"legend":null}}},
{"title":"itp","data":{"name":"itp"},"transform":[{"fold":["e","l","h"],"as":["t","v"]}],"width":107,"height":72,"mark":{"type":"line","clip":true},"encoding":{"x":{"field":"b","type":"quantitative","title":"batches","scale":{"domain":[-0.92,50.92],"nice":false,"zero":false},"axis":{"values":[0,10,20,30,40,50]}},"y":{"field":"v","type":"quantitative","title":"values","scale":{"domain":[-0.0086,0.177],"nice":false,"zero":false},"axis":{"values":[0,0.05,0.1,0.15],"format":".2f","labelExpr":"indexof([0,0.1],datum.value)<0?'':replace(datum.label,'−','-')"}},"strokeDash":{"field":"t","type":"nominal","scale":{"domain":["e","l","h"],"range":[[1,0],[4,4],[4,4]]},"legend":null}}},
{"title":"osp","data":{"name":"osp"},"transform":[{"fold":["e","l","h"],"as":["t","v"]}],"width":107,"height":72,"mark":{"type":"line","clip":true},"encoding":{"x":{"field":"b","type":"quantitative","title":"batches","scale":{"domain":[-0.92,50.92],"nice":false,"zero":false},"axis":{"values":[0,10,20,30,40,50]}},"y":{"field":"v","type":"quantitative","title":"values","scale":{"domain":[-0.0436,-0.0045],"nice":false,"zero":false},"axis":{"values":[-0.04,-0.03,-0.02,-0.01],"format":".2f","labelExpr":"indexof([-0.04,-0.02],datum.value)<0?'':replace(datum.label,'−','-')"}},"strokeDash":{"field":"t","type":"nominal","scale":{"domain":["e","l","h"],"range":[[1,0],[4,4],[4,4]]},"legend":null}}},
{"title":"isp","data":{"name":"isp"},"transform":[{"fold":["e","l","h"],"as":["t","v"]}],"width":107,"height":72,"mark":{"type":"line","clip":true},"encoding":{"x":{"field":"b","type":"quantitative","title":"batches","scale":{"domain":[-0.92,50.92],"nice":false,"zero":false},"axis":{"values":[0,10,20,30,40,50]}},"y":{"field":"v","type":"quantitative","title":"values","scale":{"domain":[-0.184,0.109],"nice":false,"zero":false},"axis":{"values":[-0.15,-0.1,-0.05,0,0.05,0.1],"format":".2f","labelExpr":"indexof([-0.15,0],datum.value)<0?'':replace(datum.label,'−','-')"}},"strokeDash":{"field":"t","type":"nominal","scale":{"domain":["e","l","h"],"range":[[1,0],[4,4],[4,4]]},"legend":null}}},
{"title":"psABXA","data":{"name":"psABXA"},"transform":[{"fold":["e","l","h"],"as":["t","v"]}],"width":107,"height":72,"mark":{"type":"line","clip":true},"encoding":{"x":{"field":"b","type":"quantitative","title":"batches","scale":{"domain":[-0.92,50.92],"nice":false,"zero":false},"axis":{"values":[0,10,20,30,40,50]}},"y":{"field":"v","type":"quantitative","title":"values","scale":{"domain":[-0.737,0.437],"nice":false,"zero":false},"axis":{"values":[-0.6,-0.4,-0.2,0,0.2,0.4],"format":".1f","labelExpr":"indexof([-0.6,0],datum.value)<0?'':replace(datum.label,'−','-')"}},"strokeDash":{"field":"t","type":"nominal","scale":{"domain":["e","l","h"],"range":[[1,0],[4,4],[4,4]]},"legend":null}}},
{"title":"psABXB","data":{"name":"psABXB"},"transform":[{"fold":["e","l","h"],"as":["t","v"]}],"width":107,"height":72,"mark":{"type":"line","clip":true},"encoding":{"x":{"field":"b","type":"quantitative","title":"batches","scale":{"domain":[-0.92,50.92],"nice":false,"zero":false},"axis":{"values":[0,10,20,30,40,50]}},"y":{"field":"v","type":"quantitative","title":"values","scale":{"domain":[0.113,1.547],"nice":false,"zero":false},"axis":{"values":[0.2,0.4,0.6,0.8,1,1.2,1.4],"format":".1f","labelExpr":"indexof([0.2,0.8,1.4],datum.value)<0?'':replace(datum.label,'−','-')"}},"strokeDash":{"field":"t","type":"nominal","scale":{"domain":["e","l","h"],"range":[[1,0],[4,4],[4,4]]},"legend":null}}},
{"title":{"text":"rrankReceive","offset":10},"data":{"name":"rrankReceive"},"transform":[{"fold":["e","l","h"],"as":["t","v"]}],"width":107,"height":72,"mark":{"type":"line","clip":true},"encoding":{"x":{"field":"b","type":"quantitative","title":"batches","scale":{"domain":[-0.92,50.92],"nice":false,"zero":false},"axis":{"values":[0,10,20,30,40,50]}},"y":{"field":"v","type":"quantitative","title":"values","scale":{"domain":[1.82,5.076],"nice":false,"zero":false},"axis":{"values":[2,2.5,3,3.5,4,4.5,5],"format":".1f","labelExpr":"indexof([2,3.5,5],datum.value)<0?'':replace(datum.label,'−','-')"}},"strokeDash":{"field":"t","type":"nominal","scale":{"domain":["e","l","h"],"range":[[1,0],[4,4],[4,4]]},"legend":null}}},
{"title":"same_senior_diff_dept","data":{"name":"same_senior_diff_dept"},"transform":[{"fold":["e","l","h"],"as":["t","v"]}],"width":107,"height":72,"mark":{"type":"line","clip":true},"encoding":{"x":{"field":"b","type":"quantitative","title":"batches","scale":{"domain":[-0.92,50.92],"nice":false,"zero":false},"axis":{"values":[0,10,20,30,40,50]}},"y":{"field":"v","type":"quantitative","title":"values","scale":{"domain":[-0.22,4.48],"nice":false,"zero":false},"axis":{"values":[0,1,2,3,4],"format":".0f","labelExpr":"replace(datum.label,'−','-')"}},"strokeDash":{"field":"t","type":"nominal","scale":{"domain":["e","l","h"],"range":[[1,0],[4,4],[4,4]]},"legend":null}}},
{"title":"diff_dept_diff_gender","data":{"name":"diff_dept_diff_gender"},"transform":[{"fold":["e","l","h"],"as":["t","v"]}],"width":107,"height":72,"mark":{"type":"line","clip":true},"encoding":{"x":{"field":"b","type":"quantitative","title":"batches","scale":{"domain":[-0.92,50.92],"nice":false,"zero":false},"axis":{"values":[0,10,20,30,40,50]}},"y":{"field":"v","type":"quantitative","title":"values","scale":{"domain":[-0.7,0.76],"nice":false,"zero":false},"axis":{"values":[-0.6,-0.4,-0.2,0,0.2,0.4,0.6],"format":".1f","labelExpr":"indexof([-0.6,-0.2,0.2,0.6],datum.value)<0?'':replace(datum.label,'−','-')"}},"strokeDash":{"field":"t","type":"nominal","scale":{"domain":["e","l","h"],"range":[[1,0],[4,4],[4,4]]},"legend":null}}}
]
}
